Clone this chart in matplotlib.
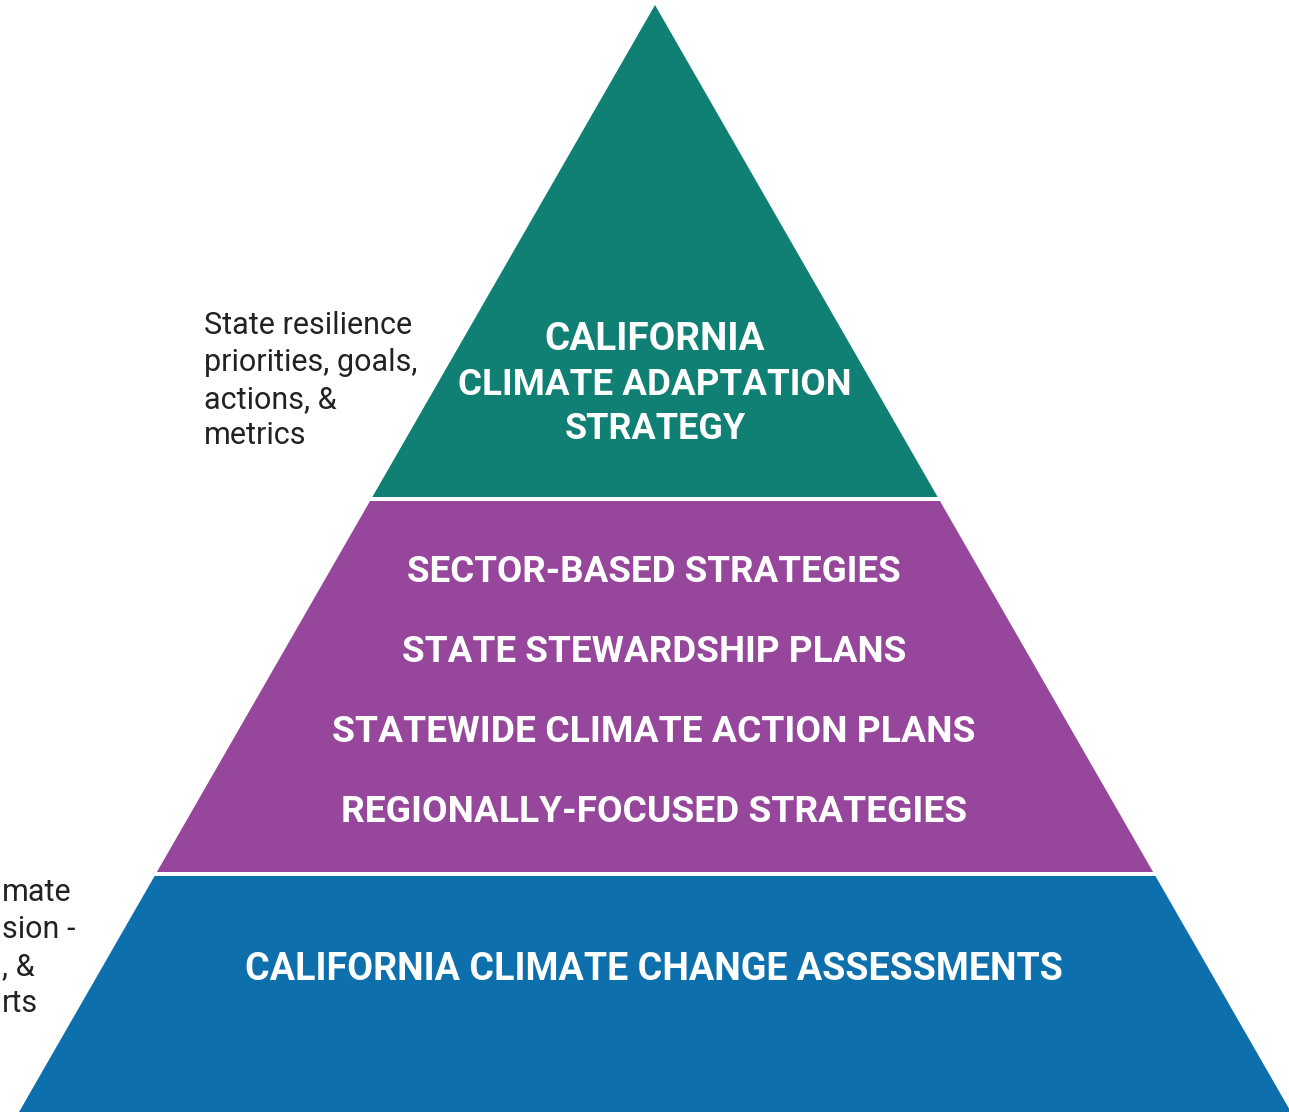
import matplotlib
matplotlib.use("Agg")
import matplotlib.pyplot as plt
from matplotlib.patches import Polygon
from matplotlib import font_manager

# ---- data ----
top_lines = ["CALIFORNIA", "CLIMATE ADAPTATION", "STRATEGY"]
middle_lines = ["SECTOR-BASED STRATEGIES", "STATE STEWARDSHIP PLANS",
                "STATEWIDE CLIMATE ACTION PLANS", "REGIONALLY-FOCUSED STRATEGIES"]
bottom_lines = ["CALIFORNIA CLIMATE CHANGE ASSESSMENTS"]
top_note = ["State resilience", "priorities, goals,", "actions, &", "metrics"]
bottom_note = ["mate", "sion -", ", &", "rts"]
tier_colors = ["#0f8073", "#96479b", "#0d6fab"]

# ---- layout (pixels) ----
W, H = 1289, 1112
apex_x, apex_y = 655, 5
slope = 0.5745
tiers = [(apex_y, 497), (501, 872), (876, H + 5)]

names = {f.name for f in font_manager.fontManager.ttflist}
bold_family = "Roboto" if "Roboto" in names else "DejaVu Sans"
reg_family = "Roboto" if "Roboto" in names else "DejaVu Sans"

fig = plt.figure(figsize=(W / 100, H / 100), dpi=100)
ax = fig.add_axes([0, 0, 1, 1])
ax.set_xlim(0, W)
ax.set_ylim(H, 0)
ax.axis("off")


def xs(y):
    d = slope * (y - apex_y)
    return apex_x - d, apex_x + d


for (y0, y1), c in zip(tiers, tier_colors):
    l0, r0 = xs(y0)
    l1, r1 = xs(y1)
    ax.add_patch(Polygon([(l0, y0), (r0, y0), (r1, y1), (l1, y1)],
                         closed=True, facecolor=c, edgecolor="none"))

fig.canvas.draw()
renderer = fig.canvas.get_renderer()


def fitted(x, y, s, width, family, weight, color, ha="center", va="center"):
    t = ax.text(x, y, s, fontsize=20, family=family, weight=weight,
                color=color, ha=ha, va=va)
    w = t.get_window_extent(renderer).width
    t.set_fontsize(20 * width / w)
    return t


# tier texts
top_y = [335, 381, 425]
top_w = [220, 392, 180]
for s, y, w in zip(top_lines, top_y, top_w):
    fitted(655, y, s, w, bold_family, "bold", "white", va="center_baseline")

mid_y = [568, 648, 728, 808]
mid_w = [493, 502, 641, 625]
for s, y, w in zip(middle_lines, mid_y, mid_w):
    fitted(654, y, s, w, bold_family, "bold", "white", va="center_baseline")

fitted(654, 965, bottom_lines[0], 816, bold_family, "bold", "white",
       va="center_baseline")

# side notes
note_base = [334, 371, 408, 444]
t = fitted(204, note_base[1], top_note[1], 213, reg_family, "normal", "#222222",
           ha="left", va="baseline")
fs = t.get_fontsize()
for i, (s, y) in enumerate(zip(top_note, note_base)):
    if i == 1:
        continue
    ax.text(204, y, s, fontsize=fs, family=reg_family, color="#222222",
            ha="left", va="baseline")

bn_base = [901, 938, 975, 1012]
for s, y in zip(bottom_note, bn_base):
    ax.text(2, y, s, fontsize=fs, family=reg_family, color="#222222",
            ha="left", va="baseline")

fig.savefig("out.png", dpi=100, facecolor="white")
